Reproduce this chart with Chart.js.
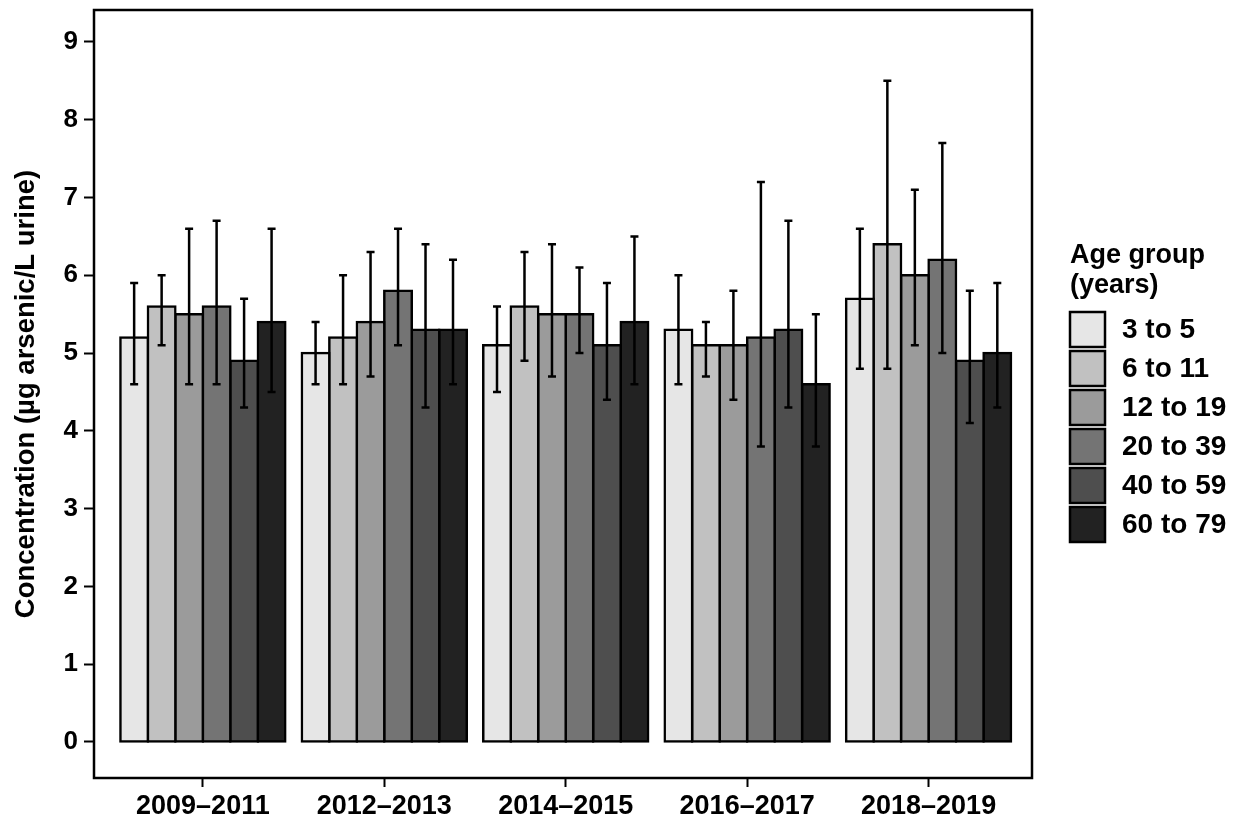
<!DOCTYPE html>
<html>
<head>
<meta charset="utf-8">
<script src="https://cdn.jsdelivr.net/npm/chart.js@4.4.1/dist/chart.umd.min.js"></script>
<style>
  html, body { margin: 0; padding: 0; background: #fff; }
  #wrap { width: 1236px; height: 822px; position: relative; }
</style>
</head>
<body>
<div id="wrap"><canvas id="c" width="1236" height="822"></canvas></div>
<script>
// Survey periods (x categories)
const periods = ['2009\u20132011', '2012\u20132013', '2014\u20132015', '2016\u20132017', '2018\u20132019'];

// Age groups (series)
const ageGroups = ['3 to 5', '6 to 11', '12 to 19', '20 to 39', '40 to 59', '60 to 79'];

// Geometric mean concentration per period, one array per age group
const mean3to5   = [5.2, 5.0, 5.1, 5.3, 5.7];
const mean6to11  = [5.6, 5.2, 5.6, 5.1, 6.4];
const mean12to19 = [5.5, 5.4, 5.5, 5.1, 6.0];
const mean20to39 = [5.6, 5.8, 5.5, 5.2, 6.2];
const mean40to59 = [4.9, 5.3, 5.1, 5.3, 4.9];
const mean60to79 = [5.4, 5.3, 5.4, 4.6, 5.0];

// 95% confidence interval bounds
const low3to5   = [4.6, 4.6, 4.5, 4.6, 4.8];
const high3to5  = [5.9, 5.4, 5.6, 6.0, 6.6];
const low6to11  = [5.1, 4.6, 4.9, 4.7, 4.8];
const high6to11 = [6.0, 6.0, 6.3, 5.4, 8.5];
const low12to19  = [4.6, 4.7, 4.7, 4.4, 5.1];
const high12to19 = [6.6, 6.3, 6.4, 5.8, 7.1];
const low20to39  = [4.6, 5.1, 5.0, 3.8, 5.0];
const high20to39 = [6.7, 6.6, 6.1, 7.2, 7.7];
const low40to59  = [4.3, 4.3, 4.4, 4.3, 4.1];
const high40to59 = [5.7, 6.4, 5.9, 6.7, 5.8];
const low60to79  = [4.5, 4.6, 4.6, 3.8, 4.3];
const high60to79 = [6.6, 6.2, 6.5, 5.5, 5.9];

// Y-axis tick values
const yTicks = [0, 1, 2, 3, 4, 5, 6, 7, 8, 9];

const seriesMeans = [mean3to5, mean6to11, mean12to19, mean20to39, mean40to59, mean60to79];
const seriesLow   = [low3to5, low6to11, low12to19, low20to39, low40to59, low60to79];
const seriesHigh  = [high3to5, high6to11, high12to19, high20to39, high40to59, high60to79];
const fills = ['#e6e6e6', '#c1c1c1', '#9b9b9b', '#747474', '#4e4e4e', '#222222'];

const FONT = "'Liberation Sans', Arial, Helvetica, sans-serif";

const datasets = ageGroups.map((name, i) => ({
  label: name,
  data: seriesMeans[i].map((v, j) => ({ x: j, y: v, lo: seriesLow[i][j], hi: seriesHigh[i][j] })),
  backgroundColor: fills[i],
  borderColor: '#000',
  borderWidth: 2.5,
  inflateAmount: 1.25,
  borderSkipped: false,
  categoryPercentage: 0.909,
  barPercentage: 1.0
}));

// Confidence-interval whiskers with caps
const errorBars = {
  id: 'errorBars',
  afterDatasetsDraw(chart) {
    const ctx = chart.ctx;
    const y = chart.scales.y;
    ctx.save();
    ctx.strokeStyle = '#000';
    ctx.lineWidth = 2.5;
    chart.data.datasets.forEach((ds, i) => {
      const meta = chart.getDatasetMeta(i);
      meta.data.forEach((bar, j) => {
        const pt = ds.data[j];
        const x = bar.x;
        const yl = y.getPixelForValue(pt.lo);
        const yh = y.getPixelForValue(pt.hi);
        ctx.beginPath();
        ctx.moveTo(x, yl); ctx.lineTo(x, yh);
        ctx.moveTo(x - 4, yl); ctx.lineTo(x + 4, yl);
        ctx.moveTo(x - 4, yh); ctx.lineTo(x + 4, yh);
        ctx.stroke();
      });
    });
    ctx.restore();
  }
};

// Closed frame around the plot area
const frame = {
  id: 'frame',
  afterDraw(chart) {
    const a = chart.chartArea;
    const ctx = chart.ctx;
    ctx.save();
    ctx.strokeStyle = '#000';
    ctx.lineWidth = 2.5;
    ctx.strokeRect(a.left, a.top, a.right - a.left, a.bottom - a.top);
    ctx.restore();
  }
};

// Legend on the right with a two-line title
const sideLegend = {
  id: 'sideLegend',
  afterDraw(chart) {
    const ctx = chart.ctx;
    ctx.save();
    ctx.fillStyle = '#000';
    ctx.font = 'bold 27px ' + FONT;
    ctx.textAlign = 'left';
    ctx.textBaseline = 'alphabetic';
    ctx.fillText('Age group', 1070, 263);
    ctx.fillText('(years)', 1070, 293);
    ctx.font = 'bold 28px ' + FONT;
    ageGroups.forEach((name, i) => {
      const top = 312 + i * 39;
      ctx.fillStyle = fills[i];
      ctx.fillRect(1070, top, 35, 35);
      ctx.strokeStyle = '#000';
      ctx.lineWidth = 2.5;
      ctx.strokeRect(1070, top, 35, 35);
      ctx.fillStyle = '#000';
      ctx.textBaseline = 'middle';
      ctx.fillText(name, 1122, top + 18);
    });
    ctx.restore();
  }
};

new Chart(document.getElementById('c'), {
  type: 'bar',
  data: { datasets },
  options: {
    responsive: false,
    animation: false,
    devicePixelRatio: 1,
    layout: { padding: { top: 10, right: 204, left: 0, bottom: 0 } },
    plugins: {
      legend: { display: false },
      tooltip: { enabled: false }
    },
    scales: {
      x: {
        type: 'linear',
        offset: false,
        min: -0.6,
        max: 4.57,
        afterBuildTicks(s) { s.ticks = periods.map((_, i) => ({ value: i })); },
        afterFit(s) { s.height = 44; s.paddingLeft = 0; s.paddingRight = 0; },
        grid: { display: true, offset: false, drawOnChartArea: false, drawTicks: true, tickLength: 9, tickWidth: 2, tickColor: '#000' },
        border: { display: false },
        ticks: {
          color: '#000',
          padding: 3,
          maxRotation: 0,
          autoSkip: false,
          font: { family: FONT, size: 27, weight: 'bold' },
          callback: (v) => periods[v]
        }
      },
      y: {
        type: 'linear',
        min: -0.463,
        max: 9.411,
        afterBuildTicks(s) { s.ticks = yTicks.map(v => ({ value: v })); },
        afterFit(s) { s.width = 94; s.paddingTop = 0; s.paddingBottom = 0; },
        grid: { display: true, drawOnChartArea: false, drawTicks: true, tickLength: 10, tickWidth: 2, tickColor: '#000' },
        border: { display: false },
        ticks: {
          color: '#000',
          padding: 6,
          font: { family: FONT, size: 26, weight: 'bold' }
        },
        title: {
          display: true,
          text: 'Concentration (\u00b5g arsenic/L urine)',
          color: '#000',
          padding: { top: 10, bottom: 0 },
          font: { family: FONT, size: 27.5, weight: 'bold' }
        }
      }
    }
  },
  plugins: [errorBars, frame, sideLegend]
});
</script>
</body>
</html>
